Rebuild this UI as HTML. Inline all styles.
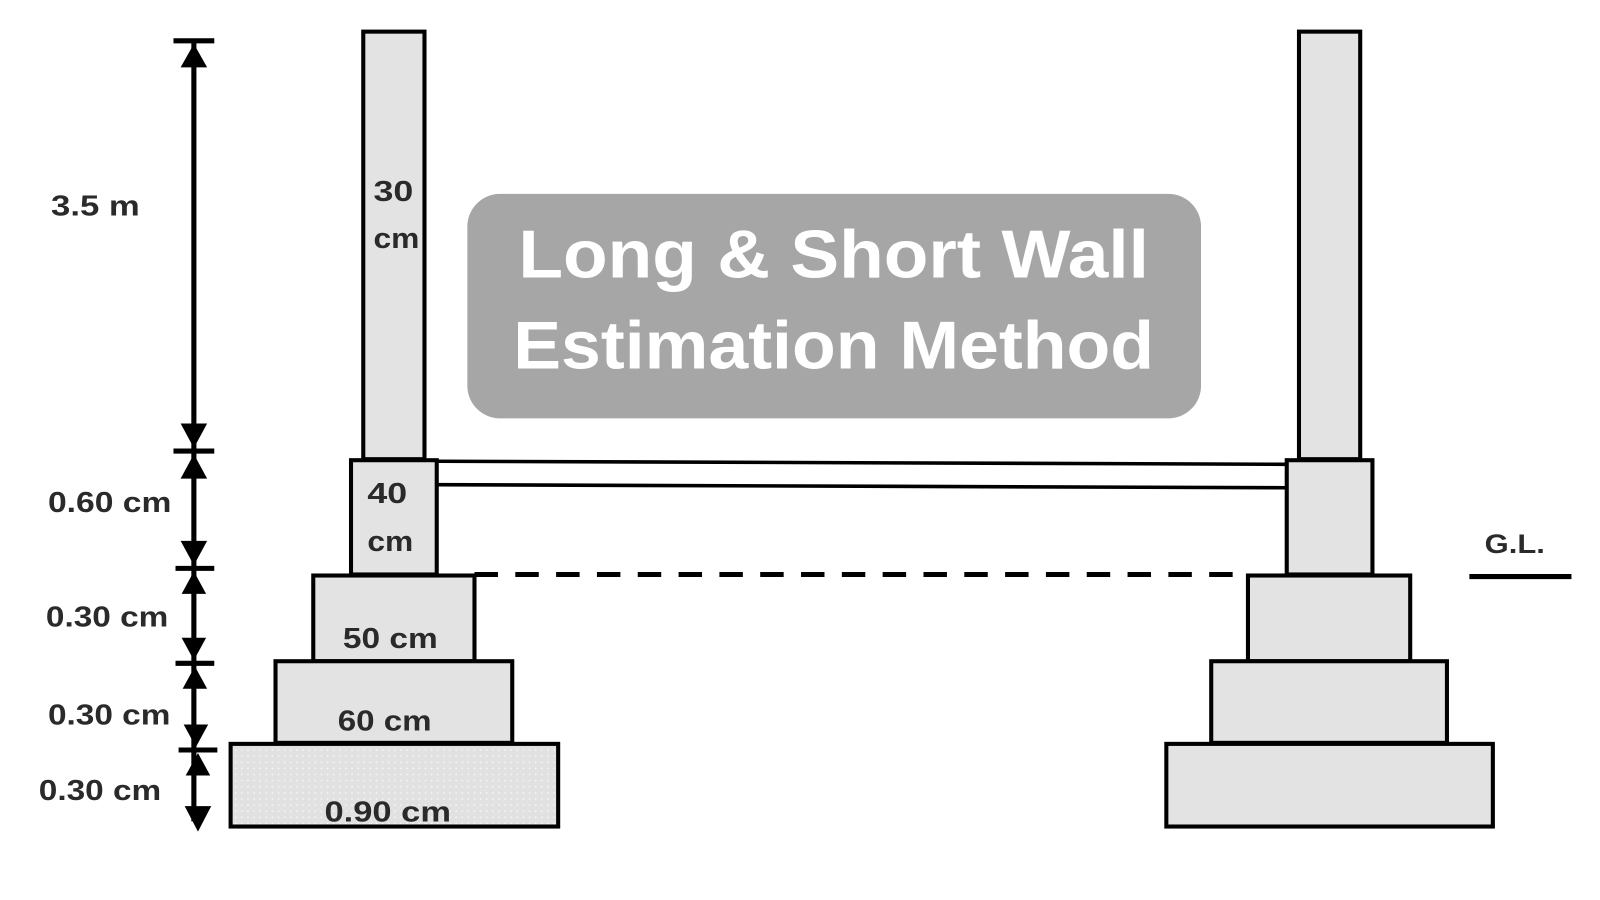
<!DOCTYPE html>
<html><head><meta charset="utf-8"><style>
html,body{margin:0;padding:0;background:#fff;width:1600px;height:900px;overflow:hidden}
svg{display:block}
text{font-family:"Liberation Sans",sans-serif;font-weight:bold}
</style></head><body>
<svg width="1600" height="900" viewBox="0 0 1568 882" preserveAspectRatio="none" xmlns="http://www.w3.org/2000/svg">
<defs>
<pattern id="dots" width="6" height="6" patternUnits="userSpaceOnUse">
<rect width="6" height="6" fill="#e2e1e2"/><circle cx="3" cy="3" r="0.9" fill="#f4f4f4"/>
</pattern>
</defs>
<g stroke="#000" stroke-width="4" fill="#e4e3e4">
<rect x="356" y="31" width="60" height="419"/>
<rect x="344" y="451" width="84" height="112"/>
<rect x="307" y="564" width="158" height="84"/>
<rect x="270" y="648" width="232" height="80"/>
<rect x="226" y="729" width="321" height="81" fill="url(#dots)"/>
<rect x="1273" y="31" width="60" height="419"/>
<rect x="1261" y="451" width="84" height="112"/>
<rect x="1223" y="564" width="159" height="84"/>
<rect x="1187" y="648" width="231" height="80"/>
<rect x="1143" y="729" width="320" height="81"/>
</g>
<g stroke="#000" stroke-width="3.5">
<line x1="428" y1="452" x2="1261" y2="455"/>
<line x1="428" y1="475" x2="1261" y2="478"/>
<line x1="465" y1="563" x2="1222" y2="563" stroke-width="5" stroke-dasharray="23 17"/>
<line x1="1440" y1="565" x2="1540" y2="565" stroke-width="5"/>
</g>
<g stroke="#000" stroke-width="5">
<line x1="190" y1="42" x2="190" y2="805"/>
<line x1="170" y1="40" x2="210" y2="40"/>
<line x1="170" y1="442" x2="210" y2="442"/>
<line x1="172" y1="557" x2="210" y2="557"/>
<line x1="172" y1="650" x2="210" y2="650"/>
<line x1="175" y1="735" x2="213" y2="735"/>
</g>
<g fill="#000">
<polygon points="190,43 177,66 203,66"/>
<polygon points="190,439 177,415 203,415"/>
<polygon points="190,445 177,469 203,469"/>
<polygon points="190,554 177,530 203,530"/>
<polygon points="190,560 178,582 202,582"/>
<polygon points="190,647 178,625 202,625"/>
<polygon points="191,653 179,675 203,675"/>
<polygon points="192,732 180,710 204,710"/>
<polygon points="194,738 182,760 206,760"/>
<polygon points="194,815 181,790 207,790"/>
</g>
<g fill="#2a2a2a" font-size="28">
<text x="50" y="211" textLength="87" lengthAdjust="spacingAndGlyphs">3.5 m</text>
<text x="47" y="502" textLength="121" lengthAdjust="spacingAndGlyphs">0.60 cm</text>
<text x="45" y="614" textLength="120" lengthAdjust="spacingAndGlyphs">0.30 cm</text>
<text x="47" y="710" textLength="120" lengthAdjust="spacingAndGlyphs">0.30 cm</text>
<text x="38" y="784" textLength="120" lengthAdjust="spacingAndGlyphs">0.30 cm</text>
<text x="366" y="197" textLength="39" lengthAdjust="spacingAndGlyphs">30</text>
<text x="366" y="243" textLength="45" lengthAdjust="spacingAndGlyphs">cm</text>
<text x="360" y="493" textLength="39" lengthAdjust="spacingAndGlyphs">40</text>
<text x="360" y="540" textLength="45" lengthAdjust="spacingAndGlyphs">cm</text>
<text x="336" y="635" textLength="93" lengthAdjust="spacingAndGlyphs">50 cm</text>
<text x="331" y="716" textLength="92" lengthAdjust="spacingAndGlyphs">60 cm</text>
<text x="318" y="805" textLength="124" lengthAdjust="spacingAndGlyphs">0.90 cm</text>
<text x="1455" y="542" font-size="26" textLength="59" lengthAdjust="spacingAndGlyphs">G.L.</text>
</g>
<rect x="458" y="190" width="719" height="220" rx="32" fill="#a6a6a6"/>
<g fill="#fff" font-size="66" text-anchor="middle">
<text x="817" y="272" textLength="618" lengthAdjust="spacingAndGlyphs">Long &amp; Short Wall</text>
<text x="817" y="361" textLength="628" lengthAdjust="spacingAndGlyphs">Estimation Method</text>
</g>
</svg>
</body></html>
